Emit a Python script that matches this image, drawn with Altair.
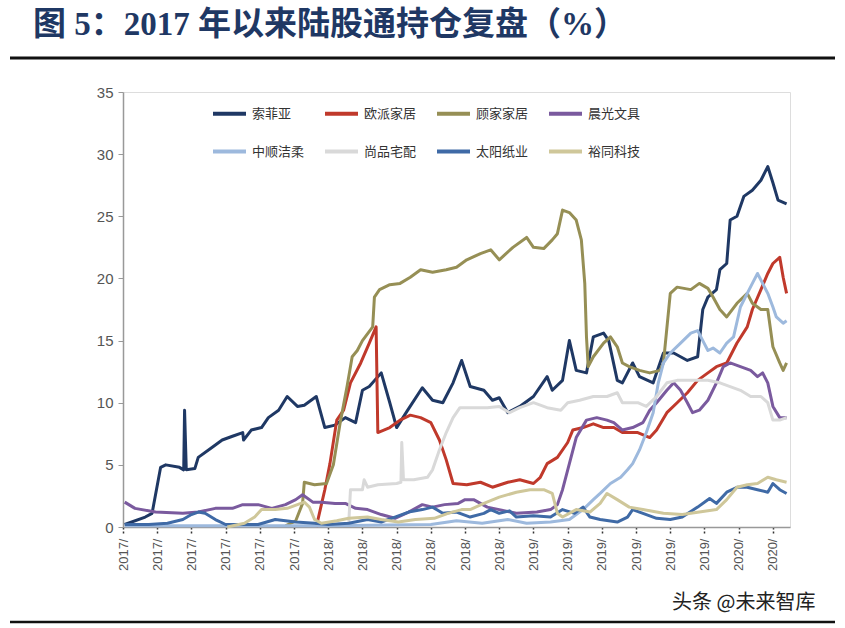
import altair as alt
import pandas as pd

# months since Jan 2017
series_names = ["索菲亚", "欧派家居", "顾家家居", "晨光文具", "中顺洁柔", "尚品宅配", "太阳纸业", "裕同科技"]
series_colors = ["#1F3864", "#C0392B", "#968F55", "#7A5A9E", "#9DB9DD", "#D9D9D9", "#3F6AA6", "#CFC79A"]

sfy_t = [0.1,1.3,1.7,2.2,2.5,3.3,3.55,3.6,3.7,4.2,4.4,5.2,5.8,6.4,7.0,7.05,7.5,8.1,8.5,9.1,9.6,10.2,10.6,11.3,11.8,12.4,13.0,13.6,14.0,14.4,15.1,15.6,16.0,16.6,17.5,18.1,18.7,19.3,19.8,20.3,21.1,21.6,22.0,22.5,23.2,24.0,24.8,25.1,25.7,26.1,26.5,27.1,27.5,28.1,28.4,28.9,29.2,29.8,30.2,31.0,31.6,32.2,33.0,33.6,33.9,34.2,34.7,34.9,35.3,35.5,35.9,36.3,36.8,37.3,37.7,38.0,38.3,38.8]
sfy_v = [0.2,0.8,1.1,4.8,5.0,4.8,4.6,9.4,4.6,4.7,5.6,6.4,7.0,7.3,7.6,7.0,7.8,8.0,8.8,9.4,10.5,9.7,9.8,10.5,8.0,8.2,8.8,8.4,11.0,11.3,12.4,10.0,8.0,9.3,11.2,10.2,10.0,11.6,13.4,11.3,11.0,10.2,10.4,9.2,9.7,10.5,12.1,11.0,11.8,15.0,12.6,12.4,15.3,15.6,15.0,11.8,11.6,13.2,12.1,11.6,14.0,14.0,13.4,13.7,17.5,18.5,19.1,20.7,21.2,24.7,25.0,26.6,27.1,27.9,29.0,27.7,26.3,26.0]

opjj_t = [11.3,11.8,12.1,12.5,12.9,13.3,13.9,14.4,14.8,14.9,15.6,16.2,16.8,17.4,18.0,18.5,18.9,19.3,20.1,20.9,21.6,22.5,23.2,24.0,24.4,24.8,25.4,26.0,26.3,26.9,27.5,28.1,28.7,29.2,30.1,30.8,31.2,31.8,32.4,33.0,33.6,34.2,34.7,35.3,35.9,36.5,36.8,37.3,37.7,38.0,38.4,38.6,38.8]
opjj_v = [0.0,3.0,5.1,8.6,9.4,11.6,13.2,14.8,16.1,7.6,8.0,8.6,9.0,8.8,8.4,7.0,5.4,3.5,3.4,3.6,3.2,3.6,3.8,3.5,4.0,5.1,5.6,6.8,7.8,8.0,8.3,8.0,8.0,7.6,7.6,7.2,7.8,9.2,10.0,10.8,11.8,12.4,12.9,13.2,14.8,16.1,17.5,19.1,20.4,21.2,21.7,20.1,18.8]

gjjj_t = [9.5,10.1,10.5,10.6,11.2,11.9,12.3,12.7,13.1,13.4,13.7,14.0,14.6,14.7,15.0,15.6,16.2,16.8,17.4,18.1,18.9,19.5,20.1,20.9,21.5,22.0,22.8,23.6,24.0,24.6,25.1,25.4,25.7,26.1,26.5,26.8,27.0,27.1,27.2,27.5,28.1,28.5,28.9,29.2,29.6,30.2,30.8,31.4,31.6,32.0,32.4,33.2,33.7,34.2,34.5,34.9,35.3,35.9,36.5,36.8,37.3,37.7,38.0,38.4,38.6,38.8]
gjjj_v = [0.1,0.5,1.9,3.6,3.4,3.5,5.0,8.4,11.3,13.7,14.2,15.0,16.1,18.5,19.1,19.5,19.6,20.1,20.7,20.5,20.7,20.9,21.5,22.0,22.3,21.5,22.5,23.3,22.5,22.4,23.1,23.6,25.5,25.3,24.7,23.1,19.6,15.3,12.9,13.7,14.8,15.3,14.5,13.2,12.9,12.6,12.4,12.6,13.2,18.8,19.3,19.1,19.6,19.2,18.5,17.5,16.9,18.0,18.8,18.0,17.5,17.5,14.5,13.2,12.6,13.2]

cgwj_t = [0.1,0.7,1.9,3.5,4.4,5.4,6.4,7.0,7.9,8.7,9.5,10.1,10.5,11.1,11.6,12.4,13.0,13.6,14.3,15.1,15.9,16.7,17.5,18.1,18.8,19.6,20.0,20.5,21.3,22.0,23.0,24.2,25.0,25.4,25.7,26.1,26.5,27.1,27.7,28.3,28.7,29.2,29.8,30.4,30.8,31.2,31.8,32.2,32.6,33.0,33.3,33.7,34.2,34.7,35.1,35.5,36.1,36.7,37.1,37.4,37.7,38.0,38.4,38.8]
cgwj_v = [2.0,1.5,1.2,1.1,1.2,1.5,1.5,1.8,1.8,1.5,1.8,2.2,2.6,2.0,2.0,1.9,1.9,1.5,1.4,1.0,0.7,1.2,1.8,1.6,1.8,1.9,2.2,2.2,1.6,1.4,1.1,1.2,1.4,1.8,3.0,5.1,7.2,8.6,8.8,8.6,8.4,7.8,8.0,8.4,9.4,10.0,11.0,11.6,11.0,10.0,9.2,9.4,10.2,11.6,12.9,13.2,12.9,12.6,12.1,12.4,11.6,9.7,8.8,8.8]

zsjr_t = [0.1,6.0,12.0,18.0,19.5,21.0,22.5,23.6,25.0,26.1,26.9,27.5,27.9,28.5,29.1,29.5,29.8,30.2,30.6,31.0,31.3,31.6,32.0,32.6,33.2,33.6,33.9,34.2,34.5,34.9,35.3,35.7,36.1,36.5,36.8,37.1,37.4,37.7,38.0,38.2,38.6,38.8]
zsjr_v = [0.1,0.1,0.1,0.2,0.5,0.3,0.6,0.3,0.4,0.6,1.4,2.2,2.7,3.5,4.0,4.6,5.1,6.2,7.6,9.2,11.6,13.2,14.0,14.8,15.6,15.8,15.0,14.2,14.4,14.0,14.8,15.3,17.7,18.8,19.6,20.4,19.6,18.8,17.7,16.9,16.4,16.6]

spzp_t = [13.2,13.3,14.0,14.1,14.3,14.9,16.0,16.25,16.3,16.4,17.0,17.8,18.1,18.5,18.9,19.3,19.7,20.5,21.3,22.0,22.6,23.2,24.0,24.8,25.6,26.0,26.7,27.5,28.3,28.9,29.2,30.1,30.6,31.2,31.8,32.4,33.3,34.2,34.9,35.5,36.1,36.7,37.3,37.7,38.0,38.4,38.8]
spzp_v = [0.3,3.0,3.0,3.8,3.2,3.4,3.5,3.6,6.8,3.8,3.8,4.0,4.6,6.2,7.6,8.8,9.6,9.6,9.6,9.7,9.2,9.6,10.0,9.6,9.4,10.0,10.2,10.5,10.5,10.8,10.0,10.0,9.7,10.5,11.6,11.8,11.8,11.8,11.6,11.3,11.0,10.5,10.5,10.0,8.6,8.6,8.8]

tyzy_t = [0.1,1.5,2.6,3.5,4.0,4.4,4.8,5.4,6.0,7.9,8.9,10.1,11.2,12.0,13.2,14.3,15.1,15.9,16.7,17.5,18.1,18.7,19.5,20.3,21.1,21.5,22.0,22.6,23.0,24.0,25.0,25.7,26.4,26.9,27.3,27.9,28.9,29.5,29.8,30.4,31.2,32.0,32.7,33.6,34.3,34.7,35.3,35.9,36.5,37.1,37.7,38.0,38.4,38.8]
tyzy_v = [0.2,0.2,0.3,0.6,1.0,1.2,1.1,0.6,0.2,0.2,0.6,0.4,0.3,0.2,0.3,0.6,0.4,0.8,1.2,1.4,1.6,1.1,1.2,0.8,1.1,1.4,1.1,1.3,0.8,0.9,0.8,1.4,1.1,1.6,0.8,0.6,0.4,0.8,1.4,1.1,0.7,0.6,0.8,1.6,2.3,1.9,2.8,3.2,3.2,3.0,2.8,3.5,3.0,2.7]

ytkj_t = [6.1,7.1,7.7,8.1,8.9,9.6,10.2,10.6,10.9,11.2,11.6,12.5,13.2,14.3,15.1,16.1,17.1,18.2,19.0,19.8,20.3,21.1,22.0,23.0,23.8,24.6,25.1,25.4,25.7,26.5,27.3,27.9,28.3,28.9,29.6,30.4,31.6,32.7,33.7,34.7,35.3,35.9,36.5,37.1,37.7,38.2,38.8]
ytkj_v = [0.0,0.3,0.8,1.4,1.4,1.5,1.8,2.0,1.6,0.6,0.3,0.5,0.7,0.8,0.6,0.4,0.6,0.7,1.1,1.4,1.4,1.9,2.4,2.8,3.0,3.0,2.7,1.1,0.8,1.4,1.2,1.9,2.7,2.2,1.6,1.4,1.1,1.0,1.2,1.4,2.2,3.2,3.4,3.5,4.0,3.8,3.6]

tick_months = [0, 2, 4, 6, 8, 10, 12, 14, 16, 18, 20, 22, 24, 26, 28, 30, 32, 34, 36, 38]
tick_labels = ["2017/"] * 6 + ["2018/"] * 6 + ["2019/"] * 6 + ["2020/"] * 2
y_ticks = [0, 5, 10, 15, 20, 25, 30, 35]

title_text = "图 5：2017 年以来陆股通持仓复盘（%）"
source_text = "头条 @未来智库"

all_t = [sfy_t, opjj_t, gjjj_t, cgwj_t, zsjr_t, spzp_t, tyzy_t, ytkj_t]
all_v = [sfy_v, opjj_v, gjjj_v, cgwj_v, zsjr_v, spzp_v, tyzy_v, ytkj_v]
rows = []
for i, (name, ts, vs) in enumerate(zip(series_names, all_t, all_v)):
    for t, v in zip(ts, vs):
        rows.append({"name": name, "t": t, "v": v, "k": i})
df = pd.DataFrame(rows)

label_expr = "[" + ",".join("'" + s + "'" for s in tick_labels) + "][round(datum.value/2)]"

lines = alt.Chart(df).mark_line(strokeWidth=3, strokeJoin="round").encode(
    x=alt.X("t:Q", scale=alt.Scale(domain=[0, 39], nice=False, zero=False),
            axis=alt.Axis(values=tick_months, labelExpr=label_expr, labelAngle=-90, title=None, grid=False,
                          labelFont="Liberation Sans", labelFontSize=13, labelColor="#555555",
                          tickSize=8, tickDash=[2, 2], tickColor="#333333", tickWidth=1.5,
                          domainColor="#999999", domainWidth=1.5, labelPadding=3)),
    y=alt.Y("v:Q", scale=alt.Scale(domain=[0, 35], nice=False),
            axis=alt.Axis(values=y_ticks, title=None, grid=False, labelFont="Liberation Sans",
                          labelFontSize=15, labelColor="#555555", tickSize=5, tickColor="#999999",
                          domainColor="#999999", domainWidth=1.5, labelPadding=5)),
    color=alt.Color("name:N", scale=alt.Scale(domain=series_names, range=series_colors),
                    legend=alt.Legend(title=None, orient="none", legendX=88, legendY=3, columns=4,
                                      direction="horizontal",
                                      symbolType="stroke", symbolSize=1089, symbolStrokeWidth=4,
                                      labelFont="Noto Sans CJK SC", labelFontSize=13, labelColor="#333333",
                                      columnPadding=12, rowPadding=11, labelOffset=4)),
    order=alt.Order("k:Q"),
    detail="name:N",
)

title = alt.Chart(pd.DataFrame({"s": [title_text]})).mark_text(
    align="left", baseline="middle", fontSize=33, fontWeight="bold",
    font="Liberation Serif, Noto Sans CJK SC", color="#1F3864"
).encode(x=alt.value(-90), y=alt.value(-67), text="s:N")

top_rule = alt.Chart(pd.DataFrame({"a": [0]})).mark_rule(color="#111111", strokeWidth=3).encode(
    x=alt.value(-113), x2=alt.value(712), y=alt.value(-34))
bottom_rule = alt.Chart(pd.DataFrame({"a": [0]})).mark_rule(color="#111111", strokeWidth=2.5).encode(
    x=alt.value(-113), x2=alt.value(712), y=alt.value(530))

source = alt.Chart(pd.DataFrame({"s": [source_text]})).mark_text(
    align="left", baseline="middle", fontSize=20, font="Noto Sans CJK SC", color="#222222"
).encode(x=alt.value(549), y=alt.value(511), text="s:N")

chart = alt.layer(lines, title, top_rule, bottom_rule, source).properties(
    width=667, height=435,
    padding={"left": 123, "top": 92, "right": 55, "bottom": 101},
    autosize=alt.AutoSizeParams(type="none"),
).configure_view(stroke=None).configure(background="white")

chart.save("out.html", embed_options={"renderer": "svg", "actions": False})
